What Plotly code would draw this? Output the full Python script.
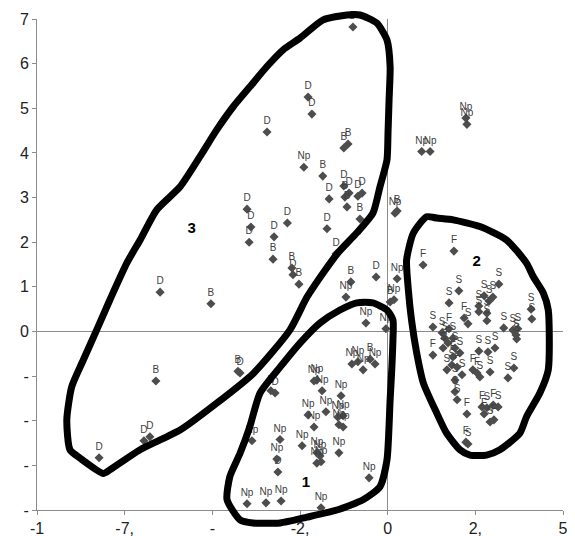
import plotly.graph_objects as go

# ---------------- data ----------------
d_x = [-0.99, -2.27, -2.16, -3.44, -1.67, -1.10, -0.85, -0.73, -1.25, -2.86, -1.73, -1.47,
       -4.01, -3.90, -3.95, -3.24, -2.70, -0.33, -6.49, -4.21, -3.21, -8.23, -6.95, -6.78, -3.13]
d_y = [6.82, 5.25, 4.87, 4.47, 2.97, 3.10, 3.03, 3.10, 3.26, 2.43, 2.30, 1.74,
       2.74, 2.34, 2.00, 2.12, 1.27, 1.22, 0.88, -0.93, -1.38, -2.83, -2.45, -2.36, -3.15]

b_x = [-1.13, -1.25, -1.85, -1.22, -1.16, -0.79, 0.27, -3.27, -2.73, -2.53, -5.04, -1.05,
       0.07, -6.61, -4.27, -3.33, -0.50]
b_y = [4.20, 4.11, 3.48, 3.01, 2.79, 2.52, 2.70, 1.62, 1.42, 1.06, 0.62, 1.11,
       0.66, -1.11, -0.89, -1.33, -0.62]

np_x = [-2.39, 0.21, -1.19, 0.27, 0.18, -0.62, -0.05, -1.02, -0.85, -0.70, -0.36, -2.10,
        -2.02, -1.87, -1.33, -2.27, -1.76, -1.27, -2.10, -1.42, -1.39, -1.27, -3.07, -3.87,
        -3.16, -2.44, -2.02, -1.93, -2.02, -1.90, -1.39, -0.53, -4.01, -3.47, -3.04, -1.90,
        2.23, 2.26, 0.97, 1.21]
np_y = [3.68, 2.65, 0.77, 1.18, 0.71, 0.19, 0.06, -0.73, -0.68, -0.86, -0.73, -1.11,
        -1.09, -1.33, -1.44, -1.87, -1.80, -1.89, -2.14, -1.92, -2.09, -2.14, -2.42, -2.45,
        -2.86, -2.56, -2.72, -2.79, -2.95, -2.92, -2.72, -3.28, -3.86, -3.84, -3.80, -3.95,
        4.78, 4.64, 4.03, 4.03]

s_x = [3.17, 2.03, 1.75, 2.75, 3.00, 2.60, 2.89, 2.83, 2.83, 2.60, 4.09, 4.11, 3.31, 3.57,
       3.66, 3.68, 3.71, 1.29, 2.29, 1.55, 1.63, 1.58, 1.86, 1.92, 2.06, 1.69, 1.83, 2.12,
       1.92, 1.92, 1.98, 2.60, 2.86, 3.06, 2.92, 3.60, 3.43, 2.63, 2.83, 3.15, 2.92, 2.29]
s_y = [1.06, 0.91, 0.64, 0.80, 0.77, 0.57, 0.68, 0.41, 0.24, 0.44, 0.50, 0.28, 0.08, 0.03,
       -0.08, -0.17, 0.06, 0.10, 0.17, -0.03, -0.15, -0.37, -0.15, -0.37, -0.48, -0.86, -0.75, -0.97,
       -1.09, -1.35, -1.53, -0.44, -0.46, -0.37, -0.91, -0.82, -1.04, -1.02, -1.71, -1.69, -2.03, -2.52]

f_x = [1.89, 1.01, 1.75, 2.18, 1.72, 1.86, 1.98, 1.29, 2.43, 2.55, 2.69, 3.01, 2.75, 3.03, 2.26, 2.23]
f_y = [1.80, 1.49, 0.06, 0.30, -0.26, -0.57, -0.80, -0.53, -0.86, -0.93, -1.69, -1.65, -1.85, -1.98, -1.85, -2.48]

# hand-drawn cluster outlines
blob3_x = [-7.44, -7.06, -6.59, -5.92, -5.35, -4.88, -4.40, -3.93, -3.45, -2.98, -2.50, -1.84, -1.16,
           -0.79, -0.31, -0.02, 0.07, 0.04, 0.01, -0.02, -0.22, -0.42, -0.88, -1.42, -1.84, -2.30,
           -2.79, -3.83, -4.88, -5.92, -7.06, -7.92, -8.11, -8.77, -9.06, -9.15, -9.01, -8.68, -8.30,
           -7.92, -7.44]
blob3_y = [1.53, 2.05, 2.72, 3.24, 3.92, 4.51, 5.04, 5.48, 5.93, 6.31, 6.57, 6.98, 7.09,
           7.09, 6.91, 6.53, 5.93, 5.19, 4.45, 3.84, 3.24, 2.65, 2.21, 1.76, 1.31, 0.77,
           0.03, -0.94, -1.61, -2.21, -2.65, -3.10, -3.18, -2.84, -2.65, -1.98, -1.24, -0.64, 0.03,
           0.71, 1.53]

blob1_x = [-4.58, -4.50, -4.21, -3.93, -3.64, -3.07, -2.50, -1.93, -1.36, -0.88, -0.42, -0.02,
           0.15, 0.15, 0.12, 0.07, -0.02, -0.22, -0.70, -1.45, -2.30, -3.07, -3.84, -4.21, -4.58]
blob1_y = [-3.77, -3.25, -2.73, -2.13, -1.38, -0.80, -0.26, 0.19, 0.48, 0.64, 0.64, 0.48,
           0.26, -0.19, -0.80, -1.53, -2.88, -3.48, -3.77, -4.00, -4.16, -4.29, -4.29, -4.22, -3.77]

blob2_x = [0.54, 0.73, 1.11, 1.40, 1.87, 2.63, 3.39, 3.96, 4.15, 4.44, 4.58, 4.58, 4.34, 3.96,
           3.77, 3.20, 2.82, 2.35, 2.06, 1.68, 1.40, 1.02, 0.83, 0.68, 0.59, 0.54]
blob2_y = [1.60, 2.20, 2.57, 2.54, 2.50, 2.35, 2.05, 1.53, 1.23, 0.86, 0.48, -0.86, -1.38, -1.91,
           -2.28, -2.65, -2.77, -2.77, -2.65, -2.28, -1.83, -1.16, -0.49, 0.26, 0.93, 1.60]

region_names = ["3", "2", "1"]
region_x = [-5.59, 2.54, -2.33]
region_y = [2.30, 1.56, -3.39]

x_tickvals = [-10, -7.5, -5, -2.5, 0, 2.5, 5]
x_ticktext = ["-1", "-7,", "-", "-2,", "0", "2,", "5"]
y_tickvals = [7, 6, 5, 4, 3, 2, 1, 0, -1, -2, -3, -4]
y_ticktext = ["7", "6", "5", "4", "3", "2", "1", "0", "-", "-", "-", "-"]

# ---------------- figure ----------------
W, H = 575, 536
L, R, T, B = 37, 563, 19, 510          # pixel box of the main axes
XMIN, XMAX, YMIN, YMAX = -10, 5, -4, 7
kx = (R - L) / (XMAX - XMIN)
ky = (B - T) / (YMAX - YMIN)

FONT = "Liberation Sans, Arial, sans-serif"
MK = dict(symbol="diamond", size=7, color="#4d4d4d")

fig = go.Figure()
groups = [("D", d_x, d_y), ("B", b_x, b_y), ("Np", np_x, np_y), ("S", s_x, s_y), ("F", f_x, f_y)]
for name, xs, ys in groups:
    fig.add_trace(go.Scatter(
        x=xs, y=ys, mode="markers+text", text=[name] * len(xs),
        textposition="top center", textfont=dict(family=FONT, size=10, color="#404040"),
        marker=MK, showlegend=False, cliponaxis=False, xaxis="x", yaxis="y"))

# outlines on a full-page overlay axis with the same scale (so they can run past the frame)
for bx, by in [(blob3_x, blob3_y), (blob1_x, blob1_y), (blob2_x, blob2_y)]:
    fig.add_trace(go.Scatter(
        x=bx, y=by, mode="lines", line=dict(color="black", width=7, shape="spline", smoothing=0.6),
        showlegend=False, hoverinfo="skip", xaxis="x2", yaxis="y2"))

fig.add_trace(go.Scatter(
    x=region_x, y=region_y, mode="text", text=region_names,
    textfont=dict(family=FONT, size=15, color="black", weight="bold"),
    showlegend=False, xaxis="x2", yaxis="y2"))

axis_common = dict(showgrid=False, showline=True, linecolor="#8c8c8c", linewidth=1,
                   zeroline=True, zerolinecolor="#8c8c8c", zerolinewidth=1,
                   ticks="outside", ticklen=4, tickcolor="#8c8c8c",
                   tickfont=dict(family=FONT, size=16, color="#222222"),
                   automargin=False, fixedrange=True)

fig.update_layout(
    width=W, height=H,
    margin=dict(l=0, r=0, t=0, b=0, pad=0),
    paper_bgcolor="white", plot_bgcolor="rgba(0,0,0,0)",
    xaxis=dict(domain=[L / W, R / W], range=[XMIN, XMAX], tickvals=x_tickvals,
               ticktext=x_ticktext, anchor="y", **axis_common),
    yaxis=dict(domain=[1 - B / H, 1 - T / H], range=[YMIN, YMAX], tickvals=y_tickvals,
               ticktext=y_ticktext, anchor="x", **axis_common),
    xaxis2=dict(domain=[0, 1], range=[XMIN - L / kx, XMAX + (W - R) / kx], visible=False,
                anchor="y2", fixedrange=True),
    yaxis2=dict(domain=[0, 1], range=[YMIN - (H - B) / ky, YMAX + T / ky], visible=False,
                anchor="x2", fixedrange=True),
)

fig.write_html(
    "out.html",
    config={"displayModeBar": False},
    post_script="document.body.style.margin='0';document.body.style.overflow='hidden';",
)
